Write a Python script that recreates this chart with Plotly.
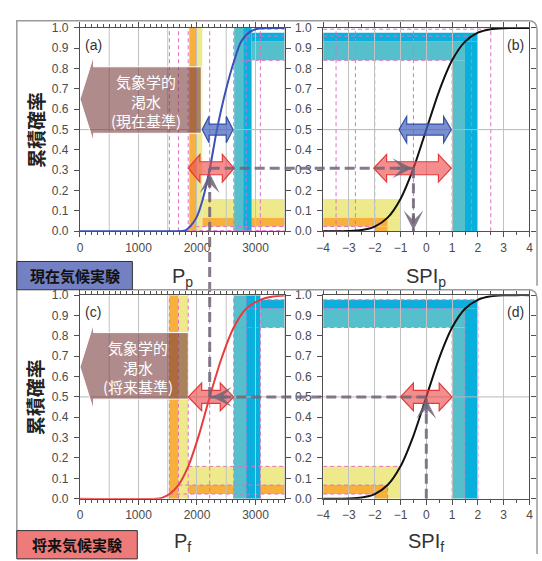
import plotly.graph_objects as go

W, H = 542, 561

# ---------------- values ----------------
# (a) present-climate cumulative probability of precipitation P_p
pres_P = [0, 1600, 1750, 1810, 1880, 1990, 2100, 2220, 2341, 2490, 2638, 2755, 2884, 3000, 3100, 3500]
pres_cdf = [0.0, 0.0, 0.001, 0.006, 0.023, 0.067, 0.159, 0.31, 0.5, 0.69, 0.841, 0.933, 0.977, 0.994, 0.999, 1.0]
# (c) future-climate cumulative probability of P_f
fut_P = [0, 1300, 1400, 1528, 1683, 1850, 2030, 2217, 2420, 2628, 2839, 3083, 3300, 3500]
fut_cdf = [0.0, 0.0, 0.004, 0.023, 0.067, 0.159, 0.31, 0.5, 0.69, 0.841, 0.933, 0.977, 0.993, 0.998]
# (b),(d) cumulative probability versus SPI
spi_x = [-4, -3.5, -3, -2.5, -2, -1.5, -1, -0.5, 0, 0.5, 1, 1.5, 2, 2.5, 3, 3.5, 4]
spi_cdf = [0.0, 0.0002, 0.001, 0.006, 0.023, 0.067, 0.159, 0.309, 0.5, 0.691, 0.841, 0.933, 0.977, 0.994, 0.999, 1.0, 1.0]

# SPI class thresholds and their cumulative probabilities
spi_thr = [-2, -1.5, -1, 1, 1.5, 2]
prob_thr = [0.023, 0.067, 0.159, 0.841, 0.933, 0.977]
# thresholds expressed as precipitation
pres_thr = [1868, 1988, 2090, 2636, 2790, 2933]
fut_thr = [1528, 1683, 1850, 2628, 2839, 3083]
fut_median_P = 2217
# future thresholds on the present SPI scale / present probability
fut_on_spi_p = [-3.5, -2.75, -2.0, 1.0, 1.75, 2.5]
fut_on_prob_p = [0.0002, 0.003, 0.023, 0.841, 0.96, 0.994]
fut_median_spi_p = -0.5
fut_median_prob_p = 0.31
future_median_prob = 0.5

# double arrows: (x start, x end, y centre)
blue_arrow_a = (2089, 2617, 0.5)
blue_arrow_b = (-1.06, 0.97, 0.5)
red_arrow_a = (1850, 2633, 0.31)
red_arrow_b = (-2.04, 0.97, 0.31)
red_arrow_c = (1850, 2628, 0.5)
red_arrow_d = (-1.0, 1.0, 0.5)

# drought block arrows: (head base x, body right x, head y0, head y1, body y0, body y1)
drought_a = (231, 2074, 0.439, 0.861, 0.482, 0.809)
drought_c = (231, 1851, 0.436, 0.859, 0.489, 0.816)

P_RANGE = [0, 3500]
S_RANGE = [-4, 4]
p_labels = [0, 1000, 2000, 3000]
p_half_grid = [500, 1500, 2500, 3500]

# ---------------- layout geometry ----------------
xa_dom = [74.5 / W, 283.5 / W]
xb_dom = [322.7 / W, 533.3 / W]
ya_dom = [(H - 230) / H, (H - 21.5) / H]
yc_dom = [(H - 504.3) / H, (H - 295.5) / H]


def px(v, dom, rng):
    return dom[0] + (v - rng[0]) / (rng[1] - rng[0]) * (dom[1] - dom[0])


YEL = '#eeea8c'
ORA = '#f8b03c'
TEAL = '#55c0cc'
BLUE = '#0ab0dc'
PINK = '#e070c4'
GRAY = 'rgba(112,100,118,0.85)'
GRID = '#c2c2c2'

shapes = []


def rect(xr, yr, x0, x1, y0, y1, color):
    shapes.append(dict(type='rect', xref=xr, yref=yr, x0=x0, x1=x1, y0=y0, y1=y1,
                       fillcolor=color, line=dict(width=0), layer='below'))


def line(xr, yr, x0, y0, x1, y1, color=PINK, width=1, dash='4px,3px', layer='below'):
    shapes.append(dict(type='line', xref=xr, yref=yr, x0=x0, y0=y0, x1=x1, y1=y1,
                       line=dict(color=color, width=width, dash=dash), layer=layer))


def p_bands(xr, yr, T):
    Pmax = P_RANGE[1]
    rect(xr, yr, T[2], Pmax, prob_thr[1], prob_thr[2], YEL)
    rect(xr, yr, T[2], Pmax, prob_thr[0], prob_thr[1], ORA)
    rect(xr, yr, T[3], T[4], 0, 1, TEAL)
    rect(xr, yr, T[4], T[5], 0, 1, BLUE)
    rect(xr, yr, T[5], Pmax, prob_thr[3], prob_thr[4], TEAL)
    rect(xr, yr, T[5], Pmax, prob_thr[4], prob_thr[5], BLUE)
    rect(xr, yr, T[0], T[1], 0, 1, ORA)
    rect(xr, yr, T[1], T[2], 0, 1, YEL)


def spi_bands(xr, yr):
    S, Pr, x0 = spi_thr, prob_thr, S_RANGE[0]
    rect(xr, yr, x0, S[2], Pr[1], Pr[2], YEL)
    rect(xr, yr, S[1], S[2], 0, Pr[1], YEL)
    rect(xr, yr, x0, S[1], Pr[0], Pr[1], ORA)
    rect(xr, yr, S[0], S[1], 0, Pr[0], ORA)
    rect(xr, yr, x0, S[4], Pr[3], Pr[4], TEAL)
    rect(xr, yr, S[3], S[4], 0, Pr[3], TEAL)
    rect(xr, yr, x0, S[5], Pr[4], Pr[5], BLUE)
    rect(xr, yr, S[4], S[5], 0, Pr[4], BLUE)


# bands
p_bands('x', 'y', pres_thr)
spi_bands('x2', 'y2')
p_bands('x3', 'y3', fut_thr)
spi_bands('x4', 'y4')

# pink dashed guide lines
for k in range(6):
    # (a)
    line('x', 'y', fut_thr[k], 0, fut_thr[k], 1)
    line('x', 'y', fut_thr[k], fut_on_prob_p[k], P_RANGE[1], fut_on_prob_p[k])
    # (b)
    top = 0.995 if k < 3 else fut_on_prob_p[k]
    line('x2', 'y2', fut_on_spi_p[k], 0, fut_on_spi_p[k], top)
    line('x2', 'y2', S_RANGE[0], fut_on_prob_p[k], fut_on_spi_p[k], fut_on_prob_p[k])
    # (c)
    line('x3', 'y3', fut_thr[k], 0, fut_thr[k], 1)
    line('x3', 'y3', fut_thr[k], prob_thr[k], P_RANGE[1], prob_thr[k])
    # (d)
    line('x4', 'y4', S_RANGE[0], prob_thr[k], spi_thr[k], prob_thr[k])
    line('x4', 'y4', spi_thr[k], 0, spi_thr[k], prob_thr[k])
line('x', 'y', fut_median_P, 0, fut_median_P, 1)
line('x3', 'y3', fut_median_P, 0, fut_median_P, 1)
line('x2', 'y2', fut_median_spi_p, 0, fut_median_spi_p, 0.995)

# extra grid lines: y = 0.5 everywhere, P every 500
for xr, yr, rng in [('x', 'y', P_RANGE), ('x2', 'y2', S_RANGE), ('x3', 'y3', P_RANGE), ('x4', 'y4', S_RANGE)]:
    line(xr, yr, rng[0], 0.5, rng[1], 0.5, color='#b8b8b8', width=1, dash='solid')
for xr, yr in [('x', 'y'), ('x3', 'y3')]:
    for v in p_half_grid:
        line(xr, yr, v, 0, v, 1, color=GRID, width=1, dash='solid')


# drought block arrows
def drought(xr, yr, spec):
    hb, xr_, hy0, hy1, by0, by1 = spec
    tip_y = (hy0 + hy1) / 2
    path = (f"M{P_RANGE[0]},{tip_y} L{hb},{hy1} L{hb},{by1} L{xr_},{by1} L{xr_},{by0} "
            f"L{hb},{by0} L{hb},{hy0} Z")
    shapes.append(dict(type='path', xref=xr, yref=yr, path=path,
                       fillcolor='rgba(122,62,62,0.6)', line=dict(color='white', width=1),
                       layer='above'))


drought('x', 'y', drought_a)
drought('x3', 'y3', drought_c)


# double arrows
def dbl(xr, yr, spec, hx, hh, sh, fill, edge):
    x0, x1, yc = spec
    path = (f"M{x0},{yc} L{x0 + hx},{yc + hh} L{x0 + hx},{yc + sh} L{x1 - hx},{yc + sh} "
            f"L{x1 - hx},{yc + hh} L{x1},{yc} L{x1 - hx},{yc - hh} L{x1 - hx},{yc - sh} "
            f"L{x0 + hx},{yc - sh} L{x0 + hx},{yc - hh} Z")
    shapes.append(dict(type='path', xref=xr, yref=yr, path=path, fillcolor=fill,
                       line=dict(color=edge, width=1.2), layer='above'))


RFILL, REDGE = 'rgba(238,72,72,0.62)', '#e53a3a'
BFILL, BEDGE = 'rgba(70,100,190,0.72)', '#3452a8'
dbl('x', 'y', blue_arrow_a, 117, 0.065, 0.027, BFILL, BEDGE)
dbl('x2', 'y2', blue_arrow_b, 0.3, 0.065, 0.027, BFILL, BEDGE)
dbl('x', 'y', red_arrow_a, 200, 0.068, 0.032, RFILL, REDGE)
dbl('x2', 'y2', red_arrow_b, 0.5, 0.068, 0.032, RFILL, REDGE)
dbl('x3', 'y3', red_arrow_c, 230, 0.068, 0.032, RFILL, REDGE)
dbl('x4', 'y4', red_arrow_d, 0.5, 0.068, 0.032, RFILL, REDGE)

# grey dashed path: future median -> present probability -> present SPI
GD = '10px,5px'
line('x4', 'y4', 0, 0, 0, future_median_prob, color=GRAY, width=3, dash=GD, layer='above')
px_d0 = px(0, xb_dom, S_RANGE)
px_med = px(fut_median_P, xa_dom, P_RANGE)
py_c5 = px(future_median_prob, yc_dom, [0, 1])
py_a3 = px(fut_median_prob_p, ya_dom, [0, 1])
px_bm = px(fut_median_spi_p, xb_dom, S_RANGE)
line('paper', 'paper', px_d0, py_c5, px_med, py_c5, color=GRAY, width=3, dash=GD, layer='above')
line('paper', 'paper', px_med, py_c5, px_med, py_a3, color=GRAY, width=3, dash=GD, layer='above')
line('paper', 'paper', px_med, py_a3, px_bm, py_a3, color=GRAY, width=3, dash=GD, layer='above')
line('x2', 'y2', fut_median_spi_p, fut_median_prob_p, fut_median_spi_p, 0, color=GRAY, width=3,
     dash=GD, layer='above')


# frames and experiment labels (paper coordinates from pixels)
def fx(v):
    return v / W


def fy(v):
    return 1 - v / H


frame1 = (f"M{fx(10)},{fy(561)} L{fx(10)},{fy(14)} L{fx(532)},{fy(14)} "
          f"Q{fx(541)},{fy(14)} {fx(541)},{fy(23)} L{fx(541)},{fy(286)}")
frame2 = (f"M{fx(128)},{fy(290)} L{fx(532)},{fy(290)} Q{fx(541)},{fy(290)} {fx(541)},{fy(299)} "
          f"L{fx(541)},{fy(561)}")
for p in (frame1, frame2):
    shapes.append(dict(type='path', xref='paper', yref='paper', path=p,
                       line=dict(color='#9a9a9a', width=1.5), layer='above'))
shapes.append(dict(type='rect', xref='paper', yref='paper', x0=fx(10), x1=fx(128), y0=fy(290), y1=fy(261),
                   fillcolor='#7381c2', line=dict(color='#333', width=1), layer='above'))
shapes.append(dict(type='rect', xref='paper', yref='paper', x0=fx(10), x1=fx(133), y0=fy(566), y1=fy(537),
                   fillcolor='#ee7a7a', line=dict(color='#333', width=1), layer='above'))

# ---------------- traces ----------------
fig = go.Figure()
curve = dict(mode='lines', hoverinfo='skip', showlegend=False)
fig.add_trace(go.Scatter(x=pres_P, y=pres_cdf, xaxis='x', yaxis='y',
                         line=dict(color='#3a50b8', width=2, shape='spline', smoothing=0.8), **curve))
fig.add_trace(go.Scatter(x=spi_x, y=spi_cdf, xaxis='x2', yaxis='y2',
                         line=dict(color='#111', width=2, shape='spline', smoothing=0.8), **curve))
fig.add_trace(go.Scatter(x=fut_P, y=fut_cdf, xaxis='x3', yaxis='y3',
                         line=dict(color='#e83c3c', width=2, shape='spline', smoothing=0.8), **curve))
fig.add_trace(go.Scatter(x=spi_x, y=spi_cdf, xaxis='x4', yaxis='y4',
                         line=dict(color='#111', width=2, shape='spline', smoothing=0.8), **curve))

# ---------------- axes ----------------
TICKFONT = dict(family='Liberation Sans, Arial', size=12, color='#4a4a4a')
common = dict(showline=True, linecolor='#505050', linewidth=1.3, mirror='allticks', ticks='outside',
              ticklen=5, tickwidth=1, tickcolor='#505050', tickfont=TICKFONT, zeroline=False,
              fixedrange=True)
xP = dict(range=P_RANGE, tickmode='array', tickvals=p_labels, showgrid=True,
          gridcolor=GRID, gridwidth=1,
          minor=dict(dtick=100, tick0=0, ticks='outside', ticklen=3, tickcolor='#505050', showgrid=False),
          **common)
s_ticks = list(range(-4, 5))
xS = dict(range=S_RANGE, tickmode='array', tickvals=s_ticks, showgrid=True, gridcolor=GRID,
          gridwidth=1,
          minor=dict(dtick=0.5, tick0=0, ticks='outside', ticklen=3, tickcolor='#505050', showgrid=False),
          **common)
y_ticks = [i / 10 for i in range(11)]
yP = dict(range=[0, 1], tickmode='array', tickvals=y_ticks, ticktext=[f'{v:.1f}' for v in y_ticks],
          showgrid=False, ticklabelstandoff=3, **common)

fig.update_layout(
    width=W, height=H, autosize=False,
    margin=dict(l=0, r=0, t=0, b=0),
    paper_bgcolor='white', plot_bgcolor='white',
    showlegend=False, hovermode=False,
    xaxis=dict(domain=xa_dom, anchor='y', **xP),
    yaxis=dict(domain=ya_dom, anchor='x', **yP),
    xaxis2=dict(domain=xb_dom, anchor='y2', **xS),
    yaxis2=dict(domain=ya_dom, anchor='x2', **yP),
    xaxis3=dict(domain=xa_dom, anchor='y3', **xP),
    yaxis3=dict(domain=yc_dom, anchor='x3', **yP),
    xaxis4=dict(domain=xb_dom, anchor='y4', **xS),
    yaxis4=dict(domain=yc_dom, anchor='x4', **yP),
    shapes=shapes,
)

# ---------------- annotations ----------------
ann = []
JP = 'Noto Sans CJK JP'
for dom in (ya_dom, yc_dom):
    ann.append(dict(xref='paper', yref='paper', x=fx(29), y=(dom[0] + dom[1]) / 2, text='<b>累積確率</b>',
                    textangle=-90, showarrow=False, xanchor='center', yanchor='middle',
                    font=dict(family=JP, size=19, color='#222')))
for xr, yr, txt, xx, xa in [('x domain', 'y domain', '(a)', 0.015, 'left'),
                            ('x2 domain', 'y2 domain', '(b)', 0.985, 'right'),
                            ('x3 domain', 'y3 domain', '(c)', 0.015, 'left'),
                            ('x4 domain', 'y4 domain', '(d)', 0.985, 'right')]:
    ann.append(dict(xref=xr, yref=yr, x=xx, y=0.965, text=txt, xanchor=xa, yanchor='top', showarrow=False,
                    font=dict(family='Liberation Sans, Arial', size=14, color='#333')))
ann.append(dict(xref='x', yref='y', x=1125, y=0.642, text='気象学的<br>渇水<br>(現在基準)', showarrow=False,
                xanchor='center', yanchor='middle', font=dict(family=JP, size=15, color='white')))
ann.append(dict(xref='x3', yref='y3', x=997, y=0.645, text='気象学的<br>渇水<br>(将来基準)', showarrow=False,
                xanchor='center', yanchor='middle', font=dict(family=JP, size=15, color='white')))
for txt, xx, yy in [('P<sub>p</sub>', (xa_dom[0] + xa_dom[1]) / 2, fy(277)),
                    ('SPI<sub>p</sub>', (xb_dom[0] + xb_dom[1]) / 2, fy(277)),
                    ('P<sub>f</sub>', (xa_dom[0] + xa_dom[1]) / 2, fy(549)),
                    ('SPI<sub>f</sub>', (xb_dom[0] + xb_dom[1]) / 2, fy(549))]:
    ann.append(dict(xref='paper', yref='paper', x=xx, y=yy, text=txt, showarrow=False,
                    xanchor='center', yanchor='middle',
                    font=dict(family='Liberation Sans, Arial', size=20, color='#333')))
ann.append(dict(xref='paper', yref='paper', x=fx(69), y=fy(275.5), text='<b>現在気候実験</b>', showarrow=False,
                xanchor='center', yanchor='middle', font=dict(family=JP, size=15, color='#111')))
ann.append(dict(xref='paper', yref='paper', x=fx(71.5), y=fy(551), text='<b>将来気候実験</b>', showarrow=False,
                xanchor='center', yanchor='middle', font=dict(family=JP, size=15, color='#111')))
# grey arrow heads on the dashed path
for xr, yr, xx, yy, axp, ayp in [('x', 'y', fut_median_P, fut_median_prob_p - 0.025, 0, 16),
                                 ('x2', 'y2', fut_median_spi_p - 0.05, fut_median_prob_p, -16, 0),
                                 ('x2', 'y2', fut_median_spi_p, 0.005, 0, -16),
                                 ('x3', 'y3', fut_median_P + 40, future_median_prob, 16, 0),
                                 ('x4', 'y4', 0, future_median_prob - 0.01, 0, 16)]:
    ann.append(dict(xref=xr, yref=yr, x=xx, y=yy, ax=axp, ay=ayp, text='', showarrow=True,
                    arrowhead=3, arrowsize=1.1, arrowwidth=3, arrowcolor=GRAY))
fig.update_layout(annotations=ann)

fig.write_html('out.html', config={'displayModeBar': False},
               post_script="document.body.style.margin='0px';")
